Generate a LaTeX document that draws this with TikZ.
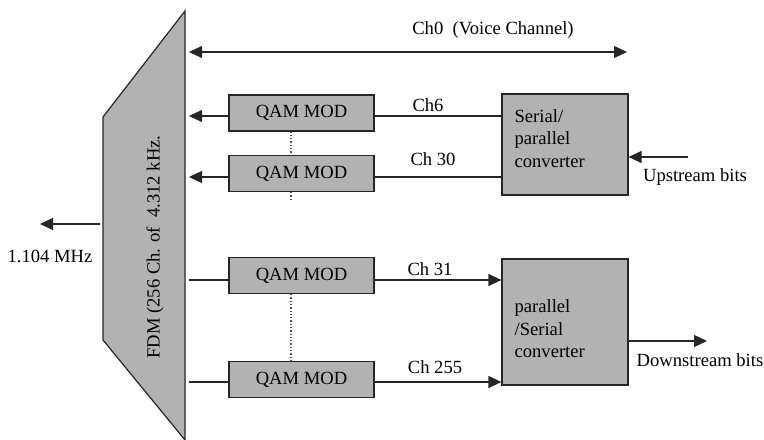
\documentclass[tikz,border=0pt]{standalone}
\usepackage{fontspec}
\setmainfont{Liberation Serif}
\usetikzlibrary{arrows.meta,positioning,calc}

\begin{document}
\begin{tikzpicture}[
    x=1bp, y=-1bp,
    every node/.style={font=\fontsize{18.6bp}{22.5bp}\selectfont, inner sep=0pt},
    block/.style={rectangle, draw=black!85, fill=black!30, line width=1.2bp},
    qam/.style={block, minimum width=145bp, minimum height=36bp},
    converter/.style={block, minimum width=126bp},
    conv_text/.style={align=left, anchor=west},
    link/.style={draw=black!85, line width=1.2bp},
    arrow_link/.style={link, -{Triangle[length=13bp,width=12bp]}},
    dots/.style={draw=black!70, line width=1.3bp, dotted}
]
\useasboundingbox (0,0) rectangle (764,440);

% --- FDM block ---
\draw[link, fill=black!30] (185,11) -- (103,117) -- (103,340) -- (185,440) -- cycle;
\node[rotate=90] (FDMlabel) at (155,247) {FDM (256 Ch. of\ \ 4.312 kHz.};

% FDM side ends of the connectors
\coordinate (F0) at (189,52);
\coordinate (F1) at (189,116);
\coordinate (F2) at (189,177);
\coordinate (F3) at (189,280);
\coordinate (F4) at (189,382);

% --- Voice channel ---
\coordinate (V0) at (627,52);
\draw[link, {Triangle[length=13bp,width=12bp]}-{Triangle[length=13bp,width=12bp]}] (F0) -- (V0);
\node (Ch0) at (493,30) {Ch0\ \ (Voice Channel)};

% --- QAM modulators ---
\node[qam] (Q1) at (301.5,113) {QAM MOD};
\node[qam] (Q2) at (301.5,173.5) {QAM MOD};
\node[qam] (Q3) at (301.5,275.5) {QAM MOD};
\node[qam] (Q4) at (301.5,379.5) {QAM MOD};

\draw[dots] ([xshift=-10.5bp]Q1.south) -- ([xshift=-10.5bp]Q2.north);
\draw[dots] ([xshift=-10.5bp]Q2.south) -- ++(0,9);
\draw[dots] ([xshift=-10.5bp]Q3.south) -- ([xshift=-10.5bp]Q4.north);

% --- Converters ---
\node[converter, minimum height=101bp] (SP) at (565,144.5) {};
\node[conv_text] (SPtext) at ([xshift=13bp,yshift=6bp]SP.west) {Serial/\\parallel\\converter};

\node[converter, minimum height=126bp] (PS) at (565,322) {};
\node[conv_text] (PStext) at ([xshift=13bp,yshift=-7bp]PS.west) {parallel\\/Serial\\converter};

% upstream
\draw[arrow_link] (Q1.west |- F1) -- (F1);
\draw[arrow_link] (Q2.west |- F2) -- (F2);
\draw[link] (Q1.east |- F1) -- (SP.west |- F1);
\draw[link] (Q2.east |- F2) -- (SP.west |- F2);
\node (Ch6) at (428,105) {Ch6};
\node (Ch30) at (433,159) {Ch 30};

% downstream
\draw[link] (F3) -- (Q3.west |- F3);
\draw[link] (F4) -- (Q4.west |- F4);
\draw[arrow_link] (Q3.east |- F3) -- (PS.west |- F3);
\draw[arrow_link] (Q4.east |- F4) -- (PS.west |- F4);
\node (Ch31) at (430,269) {Ch 31};
\node (Ch255) at (435,367) {Ch 255};

% --- bit streams ---
\coordinate (UpIn) at (688,157);
\draw[arrow_link] (UpIn) -- (SP.east |- UpIn);
\node (Upstream) at (695,177) {Upstream bits};

\coordinate (DownOut) at (707,341);
\draw[arrow_link] (PS.east |- DownOut) -- (DownOut);
\node (Downstream) at (700,360) {Downstream bits};

% --- line side ---
\coordinate (LineIn) at (100,224);
\coordinate (LineOut) at (40,224);
\draw[arrow_link] (LineIn) -- (LineOut);
\node (Freq) at (50,256) {1.104 MHz};

\end{tikzpicture}
\end{document}
